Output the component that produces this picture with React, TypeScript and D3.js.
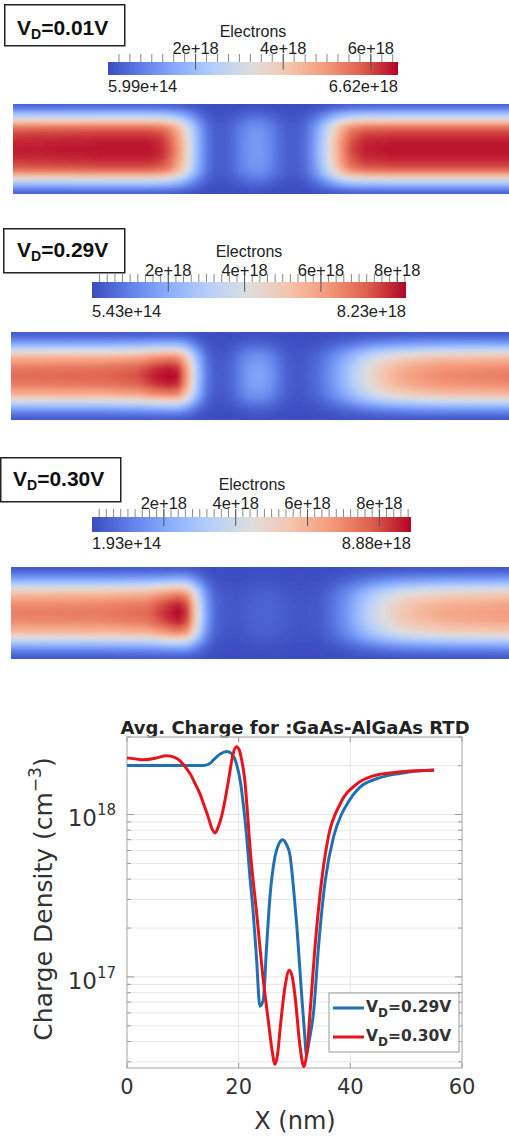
import React, { useMemo } from "react";
import * as d3 from "d3";

// ---------------- DATA ----------------
// Heat maps: electron density along the device centre line (units of 1e18 cm^-3)
const p1Nm = [0, 10, 15, 16.5, 17.5, 18.5, 19.5, 20.5, 21.5, 22.5, 23.5, 24.5, 25.5, 26.5, 27.5, 28.5, 29.5, 30.5, 31.5, 32.5, 33.5, 34.5, 35.5, 36.5, 37.5, 39, 42, 55];
const p1Val = [6.4, 6.5, 6.5, 6.3, 5.8, 4.8, 3.4, 1.8, 0.7, 0.3, 0.3, 0.55, 0.95, 1.25, 1.25, 0.95, 0.55, 0.3, 0.3, 0.6, 1.4, 2.6, 4.0, 5.2, 6.0, 6.4, 6.5, 6.5];

const p2Nm = [0, 10, 14, 16, 17.5, 18.5, 19.5, 20.5, 21.5, 22.5, 23.5, 24.5, 25.5, 26.5, 27.5, 28.5, 29.5, 30.5, 31.5, 32.5, 34, 35.5, 37, 38.5, 40, 41.5, 43, 45, 48, 55];
const p2Val = [7.0, 7.1, 7.4, 8.0, 8.23, 8.0, 6.0, 3.0, 1.0, 0.35, 0.3, 0.6, 1.2, 1.7, 1.8, 1.5, 0.9, 0.4, 0.25, 0.3, 0.7, 1.5, 2.5, 3.6, 4.6, 5.3, 5.8, 6.2, 6.5, 6.7];

const p3Nm = [0, 10, 15, 17, 18.5, 19.5, 20.5, 21.5, 22.5, 23.5, 25, 27, 28.5, 30, 32, 34, 35.5, 37, 38.5, 40, 41.5, 43, 45, 48, 55];
const p3Val = [7.2, 7.3, 7.6, 8.4, 8.88, 8.2, 5.0, 2.0, 0.6, 0.3, 0.25, 0.45, 0.5, 0.35, 0.2, 0.3, 0.8, 1.6, 2.7, 3.8, 4.7, 5.4, 5.9, 6.3, 6.6];

// cross-section (lateral) profile, fraction of channel width -> relative density
const latT = [0, 0.05, 0.1, 0.15, 0.2, 0.25, 0.3, 0.4, 0.5, 0.6, 0.7, 0.75, 0.8, 0.85, 0.9, 0.95, 1];
const latWide = [0.04, 0.12, 0.28, 0.45, 0.66, 0.83, 0.92, 0.98, 1, 0.98, 0.92, 0.83, 0.66, 0.45, 0.28, 0.12, 0.04];
const latNarrow = [0.03, 0.08, 0.18, 0.32, 0.5, 0.68, 0.82, 0.96, 1, 0.96, 0.82, 0.68, 0.5, 0.32, 0.18, 0.08, 0.03];

const panelBias = ["0.01V", "0.29V", "0.30V"];
const cbarMin = [5.99e14, 5.43e14, 1.93e14];
const cbarMax = [6.62e18, 8.23e18, 8.88e18];
const cbarMinLabel = ["5.99e+14", "5.43e+14", "1.93e+14"];
const cbarMaxLabel = ["6.62e+18", "8.23e+18", "8.88e+18"];
const cbarTicks1 = [2e18, 4e18, 6e18];
const cbarTicks23 = [2e18, 4e18, 6e18, 8e18];
const cbarTickLabels = ["2e+18", "4e+18", "6e+18", "8e+18"];

// Line plot: average charge density vs X (nm)
const x029 = [0, 5, 10, 13, 14, 15, 15.5, 16.7, 17.9, 18.8, 19.6, 20.3, 20.9, 21.4, 22, 22.6, 23.2, 23.8, 24.4, 25, 25.6, 26.5, 27.2, 27.9, 28.6, 29.2, 29.8, 30.4, 31.3, 31.8, 32.15, 32.6, 33.4, 34.3, 35.5, 37, 38.4, 39.1, 40.5, 41.7, 44.7, 48.9, 52, 55];
const rho029 = [2.0e18, 2.0e18, 2.0e18, 2.0e18, 2.01e18, 2.08e18, 2.17e18, 2.36e18, 2.44e18, 2.36e18, 2.05e18, 1.6e18, 1.1e18, 7.5e17, 4.2e17, 2.5e17, 1.3e17, 6.6e16, 7.2e16, 1.53e17, 3.1e17, 5.5e17, 6.6e17, 7.0e17, 6.5e17, 5.6e17, 3.6e17, 2.1e17, 7.6e16, 4.5e16, 3.3e16, 4.0e16, 6.0e16, 1.53e17, 3.9e17, 7.3e17, 1.0e18, 1.11e18, 1.32e18, 1.47e18, 1.66e18, 1.79e18, 1.85e18, 1.87e18];

const x030 = [0, 1.5, 2.9, 5, 7.1, 8.5, 9.5, 10.5, 11.3, 12.2, 13.07, 13.8, 14.57, 15.2, 15.76, 16.3, 16.96, 17.6, 18.15, 19.0, 19.6, 20.1, 20.5, 21.1, 21.6, 22.03, 23.23, 24.42, 25.3, 26.0, 26.5, 27.0, 27.4, 28.3, 29.07, 29.6, 30.1, 31.0, 31.7, 32.2, 32.78, 33.67, 34.87, 36.06, 38.15, 41.14, 44.1, 48.3, 52, 55];
const rho030 = [2.23e18, 2.2e18, 2.17e18, 2.22e18, 2.3e18, 2.25e18, 2.14e18, 1.95e18, 1.78e18, 1.55e18, 1.34e18, 1.14e18, 9.6e17, 8.2e17, 7.7e17, 8.3e17, 9.8e17, 1.25e18, 1.6e18, 2.36e18, 2.61e18, 2.5e18, 2.2e18, 1.62e18, 1.0e18, 6.3e17, 2.45e17, 9.5e16, 5.4e16, 3.5e16, 2.9e16, 3.4e16, 4.7e16, 8.7e16, 1.1e17, 1.0e17, 7.6e16, 3.7e16, 2.8e16, 3.4e16, 6.0e16, 1.53e17, 3.94e17, 7.26e17, 1.16e18, 1.54e18, 1.73e18, 1.82e18, 1.86e18, 1.88e18];

const xTicks = [0, 20, 40, 60];
const xGrid = [20, 40];
const yMajor = [1e17, 1e18];
const yMajorExp = ["17", "18"];
const legendLabels = ["=0.29V", "=0.30V"];

// ---------------- STYLE ----------------
const W = 509;
const coolWarm = ["#3b4cc0", "#6282ea", "#8db0fe", "#b8d0f9", "#dddddd", "#f5c4ad", "#f49a7b", "#de604d", "#b40426"];
const colorOf = d3
  .scaleLinear<string>()
  .domain(coolWarm.map((_, i) => i / (coolWarm.length - 1)))
  .range(coolWarm)
  .interpolate(d3.interpolateRgb)
  .clamp(true);

const SANS = "'Liberation Sans', Arial, sans-serif";
const DJ = "'DejaVu Sans', sans-serif";
const BLUE = "#2171b0";
const RED = "#e8141c";

type PanelLayout = {
  box: [number, number, number, number];
  textX: number;
  textY: number;
  titleX: number;
  titleY: number;
  bar: [number, number, number, number];
  tickY: number;
  lowY: number;
  heat: [number, number, number];
  minor: number;
};

const layouts: PanelLayout[] = [
  { box: [4, 4, 120, 41], textX: 17, textY: 35, titleX: 253, titleY: 37, bar: [108, 62, 290, 13], tickY: 54, lowY: 92, heat: [13, 104, 90], minor: 2.5e17 },
  { box: [3, 228, 121, 44], textX: 17, textY: 257, titleX: 249, titleY: 257, bar: [92, 282, 314, 16], tickY: 276, lowY: 317, heat: [11, 332, 88], minor: 2e17 },
  { box: [0, 457, 120, 44], textX: 13, textY: 486, titleX: 252, titleY: 490, bar: [92, 517, 319, 15], tickY: 509, lowY: 549, heat: [11, 567, 92], minor: 2e17 },
];

const panelData = [
  { nm: p1Nm, val: p1Val, lat: latWide, ticks: cbarTicks1 },
  { nm: p2Nm, val: p2Val, lat: latNarrow, ticks: cbarTicks23 },
  { nm: p3Nm, val: p3Val, lat: latNarrow, ticks: cbarTicks23 },
];

function HeatPanel({ i }: { i: number }) {
  const L = layouts[i];
  const D = panelData[i];
  const vmin = cbarMin[i];
  const vmax = cbarMax[i];
  const [hx, hy, hh] = L.heat;
  const cells = useMemo(() => {
    const xs = d3.scaleLinear().domain([0, 55]).range([hx, W]);
    const center = d3.scaleLinear().domain(D.nm).range(D.val).clamp(true);
    const lateral = d3.scaleLinear().domain(latT).range(D.lat).clamp(true);
    const norm = d3.scaleLinear().domain([vmin, vmax]).range([0, 1]).clamp(true);
    const cw = 3;
    const ch = 3;
    const out: { x: number; y: number; c: string }[] = [];
    for (let px = hx - 6; px < W + 6; px += cw) {
      const nm = xs.invert(px + cw / 2);
      const cv = center(nm) * 1e18;
      for (let py = hy - 6; py < hy + hh + 6; py += ch) {
        const t = Math.max(0, Math.min(1, (py + ch / 2 - hy) / hh));
        out.push({ x: px, y: py, c: colorOf(norm(cv * lateral(t))) });
      }
    }
    return out;
  }, [i]);

  const [bx, by, bw, bh] = L.bar;
  const bs = d3.scaleLinear().domain([vmin, vmax]).range([bx, bx + bw]);
  const minorTicks = d3.range(0, vmax, L.minor).filter((v) => v >= vmin);
  const gid = `cb${i}`;
  const clipId = `hc${i}`;
  const sub = 14;

  return (
    <g>
      <defs>
        <linearGradient id={gid} x1="0" x2="1" y1="0" y2="0">
          {coolWarm.map((_, k) => (
            <stop key={k} offset={k / (coolWarm.length - 1)} stopColor={colorOf(k / (coolWarm.length - 1))} />
          ))}
        </linearGradient>
        <clipPath id={clipId}>
          <rect x={hx} y={hy} width={W - hx} height={hh} />
        </clipPath>
      </defs>
      {/* label box */}
      <rect x={L.box[0] + 0.75} y={L.box[1] + 0.75} width={L.box[2]} height={L.box[3]} fill="#fff" stroke="#222" strokeWidth={1.5} />
      <text x={L.textX} y={L.textY} fontFamily={SANS} fontWeight="bold" fontSize={21} fill="#111">
        V<tspan fontSize={sub} dy={4}>D</tspan>
        <tspan dy={-4}>={panelBias[i]}</tspan>
      </text>
      {/* colour bar */}
      <text x={L.titleX} y={L.titleY} textAnchor="middle" fontFamily={SANS} fontSize={16} fill="#222">
        Electrons
      </text>
      {minorTicks.map((v, k) => (
        <line key={k} x1={bs(v)} x2={bs(v)} y1={by - 8} y2={by} stroke="#888" strokeWidth={1} />
      ))}
      <rect x={bx} y={by} width={bw} height={bh} fill={`url(#${gid})`} />
      {D.ticks.map((v, k) => (
        <g key={k}>
          <line x1={bs(v)} x2={bs(v)} y1={by - 8} y2={by + bh * 0.6} stroke="#555" strokeWidth={1} />
          <text x={bs(v)} y={L.tickY} textAnchor="middle" fontFamily={SANS} fontSize={16.5} fill="#222">
            {cbarTickLabels[k]}
          </text>
        </g>
      ))}
      <text x={bx} y={L.lowY} fontFamily={SANS} fontSize={16.5} fill="#222">
        {cbarMinLabel[i]}
      </text>
      <text x={bx + bw} y={L.lowY} textAnchor="end" fontFamily={SANS} fontSize={16.5} fill="#222">
        {cbarMaxLabel[i]}
      </text>
      {/* heat map */}
      <g clipPath={`url(#${clipId})`}>
        <g filter="url(#soft)">
          {cells.map((c, k) => (
            <rect key={k} x={c.x} y={c.y} width={3.4} height={3.4} fill={c.c} />
          ))}
        </g>
      </g>
    </g>
  );
}

function LinePlot() {
  const left = 127;
  const right = 462;
  const top = 737;
  const bottom = 1068;
  const xS = d3.scaleLinear().domain([0, 60]).range([left, right]);
  const yS = d3.scaleLog().domain([2.75e16, 3e18]).range([bottom, top]);
  const line = d3
    .line<[number, number]>()
    .x((d) => xS(d[0]))
    .y((d) => yS(d[1]))
    .curve(d3.curveMonotoneX);
  const d29 = line(x029.map((x, k) => [x, rho029[k]] as [number, number])) || "";
  const d30 = line(x030.map((x, k) => [x, rho030[k]] as [number, number])) || "";
  const yMinor = yS.ticks();
  const isMajor = (v: number) => yMajor.some((m) => Math.abs(m - v) / m < 1e-6);
  const lg = { x: 329, y: 993, w: 130, h: 59 };
  const cx = (left + right) / 2 + 0.5;

  return (
    <g>
      <text x={295} y={734} textAnchor="middle" fontFamily={DJ} fontWeight="bold" fontSize={18} fill="#222">
        Avg. Charge for :GaAs-AlGaAs RTD
      </text>
      {/* grid */}
      {yMinor.map((v, k) => (
        <line key={k} x1={left} x2={right} y1={yS(v)} y2={yS(v)} stroke="#e6e6e6" strokeWidth={1} />
      ))}
      {xGrid.map((v) => (
        <line key={v} x1={xS(v)} x2={xS(v)} y1={top} y2={bottom} stroke="#e6e6e6" strokeWidth={1} />
      ))}
      {/* ticks */}
      {yMinor.map((v, k) => {
        const len = isMajor(v) ? 7 : 4;
        return (
          <g key={k} stroke="#999">
            <line x1={left} x2={left + len} y1={yS(v)} y2={yS(v)} />
            <line x1={right - len} x2={right} y1={yS(v)} y2={yS(v)} />
          </g>
        );
      })}
      {xTicks.map((v) => (
        <g key={v} stroke="#999">
          <line x1={xS(v)} x2={xS(v)} y1={bottom} y2={bottom - 5} />
          <line x1={xS(v)} x2={xS(v)} y1={top} y2={top + 5} />
        </g>
      ))}
      <rect x={left} y={top} width={right - left} height={bottom - top} fill="none" stroke="#a5a5a5" strokeWidth={1} />
      {/* curves */}
      <path d={d29} fill="none" stroke={BLUE} strokeWidth={3} strokeLinejoin="round" />
      <path d={d30} fill="none" stroke={RED} strokeWidth={3} strokeLinejoin="round" />
      {/* tick labels */}
      {xTicks.map((v) => (
        <text key={v} x={xS(v)} y={1094} textAnchor="middle" fontFamily={DJ} fontSize={21} fill="#333">
          {v}
        </text>
      ))}
      {yMajor.map((v, k) => (
        <text key={k} x={116} y={yS(v) + 12} textAnchor="end" fontFamily={DJ} fontSize={23} fill="#333">
          10
          <tspan fontSize={15} dy={-11}>
            {yMajorExp[k]}
          </tspan>
        </text>
      ))}
      <text x={cx} y={1129} textAnchor="middle" fontFamily={DJ} fontSize={24} fill="#333">
        X (nm)
      </text>
      <text transform="translate(52,899) rotate(-90)" textAnchor="middle" fontFamily={DJ} fontSize={25} fill="#333">
        Charge Density (cm
        <tspan fontSize={17} dy={-11}>
          −3
        </tspan>
        <tspan dy={11}>)</tspan>
      </text>
      {/* legend */}
      <rect x={lg.x} y={lg.y} width={lg.w} height={lg.h} fill="#fff" stroke="#999" strokeWidth={1} />
      {[BLUE, RED].map((c, k) => {
        const yy = 1008 + k * 29;
        return (
          <g key={k}>
            <line x1={333} x2={364} y1={yy} y2={yy} stroke={c} strokeWidth={3} />
            <text x={366} y={yy + 4} fontFamily={DJ} fontWeight="bold" fontSize={15.5} fill="#333">
              V<tspan fontSize={12} dy={5}>D</tspan>
              <tspan dy={-5}>{legendLabels[k]}</tspan>
            </text>
          </g>
        );
      })}
    </g>
  );
}

export default function App() {
  return (
    <svg
      width={509}
      height={1136}
      viewBox="0 0 509 1136"
      style={{ position: "absolute", left: 0, top: 0, display: "block", background: "#fff" }}
    >
      <defs>
        <filter id="soft" x="-5%" y="-20%" width="110%" height="140%">
          <feGaussianBlur stdDeviation="1.6" />
        </filter>
      </defs>
      <rect x={0} y={0} width={509} height={1136} fill="#fff" />
      <HeatPanel i={0} />
      <HeatPanel i={1} />
      <HeatPanel i={2} />
      <LinePlot />
    </svg>
  );
}
